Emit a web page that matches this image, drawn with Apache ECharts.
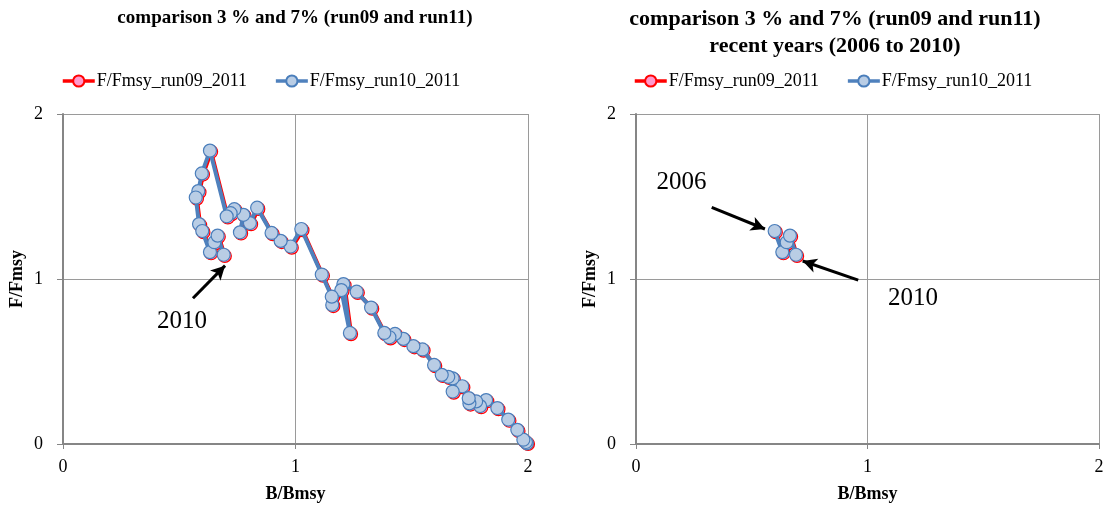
<!DOCTYPE html>
<html>
<head>
<meta charset="utf-8">
<script src="https://cdn.jsdelivr.net/npm/echarts@6/dist/echarts.min.js"></script>
<style>html,body{margin:0;padding:0;background:#fff}#c{width:1110px;height:508px}</style>
</head>
<body>
<div id="c"></div>
<script>
// ---- data ----
const titleLeft = 'comparison 3 % and 7% (run09 and run11)';
const titleRight = 'comparison 3 % and 7% (run09 and run11)\nrecent years (2006 to 2010)';
const seriesNames = ['F/Fmsy_run09_2011', 'F/Fmsy_run10_2011'];
const axisTicks = [0, 1, 2];

const run10B = [1.995,1.991,1.980,1.954,1.915,1.868,1.820,1.794,1.777,1.748,1.745,1.717,1.676,1.676,1.657,1.629,1.596,1.546,1.507,1.464,1.428,1.404,1.382,1.325,1.263,1.206,1.234,1.197,1.158,1.156,1.113,1.025,0.979,0.936,0.897,0.835,0.804,0.761,0.776,0.737,0.721,0.704,0.632,0.597,0.582,0.571,0.585,0.599,0.632,0.651,0.665,0.691];
const run10F = [0.004,0.012,0.026,0.086,0.148,0.218,0.266,0.230,0.258,0.246,0.278,0.350,0.318,0.398,0.407,0.419,0.479,0.573,0.593,0.637,0.667,0.647,0.673,0.827,0.923,0.969,0.673,0.933,0.843,0.893,1.027,1.303,1.197,1.231,1.279,1.432,1.339,1.283,1.389,1.423,1.399,1.380,1.778,1.640,1.533,1.494,1.333,1.291,1.163,1.223,1.263,1.147];
const run09B = [2.000,1.996,1.985,1.959,1.920,1.873,1.825,1.799,1.782,1.753,1.750,1.722,1.681,1.681,1.662,1.634,1.601,1.551,1.512,1.469,1.433,1.409,1.387,1.330,1.268,1.211,1.239,1.202,1.163,1.161,1.118,1.030,0.984,0.941,0.902,0.840,0.809,0.766,0.781,0.742,0.726,0.709,0.637,0.602,0.587,0.576,0.590,0.604,0.637,0.656,0.670,0.696];
const run09F = [0.000,0.005,0.019,0.079,0.141,0.211,0.259,0.223,0.251,0.239,0.271,0.343,0.311,0.391,0.400,0.412,0.472,0.566,0.586,0.630,0.660,0.640,0.666,0.820,0.916,0.962,0.666,0.926,0.836,0.886,1.020,1.296,1.190,1.224,1.272,1.425,1.332,1.276,1.382,1.416,1.392,1.373,1.771,1.633,1.526,1.487,1.326,1.284,1.156,1.216,1.256,1.140];
const recentCount = 5; // 2006..2010 = last five points

// annotations in data coordinates
const leftLabel2010 = {text: '2010', at: [0.512, 0.745]};
const leftArrow2010 = {from: [0.559, 0.883], to: [0.697, 1.081]};
const rightLabel2006 = {text: '2006', at: [0.197, 1.584]};
const rightArrow2006 = {from: [0.327, 1.434], to: [0.557, 1.303]};
const rightLabel2010 = {text: '2010', at: [1.197, 0.883]};
const rightArrow2010 = {from: [0.960, 0.993], to: [0.720, 1.109]};

// ---- chart ----
const FONT = '"Liberation Serif", "Times New Roman", serif';
const pairs = (xs, ys) => xs.map((x, i) => [x, ys[i]]);
const recent = arr => arr.slice(arr.length - recentCount);

function xAxis(gi) {
  return {
    type: 'value', gridIndex: gi, min: axisTicks[0], max: axisTicks[axisTicks.length - 1], interval: 1,
    name: 'B/Bmsy', nameLocation: 'middle', nameGap: 41,
    nameTextStyle: {fontFamily: FONT, fontWeight: 'bold', fontSize: 18, color: '#000'},
    axisLine: {show: true, onZero: false, lineStyle: {color: '#868686', width: 2}},
    axisTick: {show: true, length: 5, lineStyle: {color: '#868686'}},
    axisLabel: {fontFamily: FONT, fontSize: 18, color: '#000', margin: 14},
    splitLine: {show: true, lineStyle: {color: '#9a9a9a', width: 1}}
  };
}
function yAxis(gi) {
  return {
    type: 'value', gridIndex: gi, min: axisTicks[0], max: axisTicks[axisTicks.length - 1], interval: 1,
    name: 'F/Fmsy', nameLocation: 'middle', nameGap: 37,
    nameTextStyle: {fontFamily: FONT, fontWeight: 'bold', fontSize: 18, color: '#000'},
    axisLine: {show: true, onZero: false, lineStyle: {color: '#868686', width: 2}},
    axisTick: {show: true, length: 6, lineStyle: {color: '#868686'}},
    axisLabel: {fontFamily: FONT, fontSize: 18, color: '#000', margin: 20},
    splitLine: {show: true, lineStyle: {color: '#9a9a9a', width: 1}}
  };
}
function labelPoint(l, w) {
  return {
    coord: l.at, value: l.text, symbol: 'rect', symbolSize: [w, 36],
    itemStyle: {color: '#fff'},
    label: {show: true, position: 'inside', formatter: l.text, fontFamily: FONT, fontSize: 25, color: '#000'}
  };
}
function arrowLine(a) {
  return [{coord: a.from}, {coord: a.to}];
}
function redSeries(gi, data) {
  return {
    name: seriesNames[0], type: 'line', xAxisIndex: gi, yAxisIndex: gi, data: data,
    symbol: 'circle', symbolSize: 13, showSymbol: true, z: 2,
    lineStyle: {color: '#ff0000', width: 4},
    itemStyle: {color: '#ff99cc', borderColor: '#ff0000', borderWidth: 1.2}
  };
}
function blueSeries(gi, data, labels, arrows) {
  return {
    name: seriesNames[1], type: 'line', xAxisIndex: gi, yAxisIndex: gi, data: data,
    symbol: 'circle', symbolSize: 13, showSymbol: true, z: 3,
    lineStyle: {color: '#4f81bd', width: 4},
    itemStyle: {color: '#b9cde5', borderColor: '#4a7ebb', borderWidth: 1.2},
    markPoint: {silent: true, z: 1, data: labels, animation: false},
    markLine: {
      silent: true, symbol: ['none', 'arrow'], symbolSize: [11, 14], animation: false,
      label: {show: false},
      lineStyle: {color: '#000', width: 3, type: 'solid'},
      emphasis: {disabled: true},
      data: arrows
    }
  };
}
function legend(left) {
  return {
    data: seriesNames, left: left, top: 72, padding: 0,
    itemWidth: 32, itemHeight: 14, itemGap: 27,
    lineStyle: {width: 3.5},
    textStyle: {fontFamily: FONT, fontSize: 18, color: '#000', padding: [0, 0, 0, -3]}
  };
}

const chart = echarts.init(document.getElementById('c'), null, {renderer: 'canvas'});
chart.setOption({
  animation: false,
  backgroundColor: '#fff',
  textStyle: {fontFamily: FONT},
  title: [
    {text: titleLeft, left: 295, top: 7, padding: 0, textAlign: 'center',
     textStyle: {fontFamily: FONT, fontWeight: 'bold', fontSize: 19, color: '#000', lineHeight: 22}},
    {text: titleRight, left: 835, top: 6, padding: 0, textAlign: 'center',
     textStyle: {fontFamily: FONT, fontWeight: 'bold', fontSize: 22, color: '#000', lineHeight: 27}}
  ],
  legend: [legend(61), legend(633)],
  grid: [
    {left: 63, top: 114, width: 465, height: 333},
    {left: 636, top: 114, width: 463, height: 333}
  ],
  xAxis: [xAxis(0), xAxis(1)],
  yAxis: [yAxis(0), yAxis(1)],
  series: [
    redSeries(0, pairs(run09B, run09F)),
    blueSeries(0, pairs(run10B, run10F), [labelPoint(leftLabel2010, 56)], [arrowLine(leftArrow2010)]),
    redSeries(1, pairs(recent(run09B), recent(run09F))),
    blueSeries(1, pairs(recent(run10B), recent(run10F)),
      [labelPoint(rightLabel2006, 56), labelPoint(rightLabel2010, 77)],
      [arrowLine(rightArrow2006), arrowLine(rightArrow2010)])
  ]
});
</script>
</body>
</html>
